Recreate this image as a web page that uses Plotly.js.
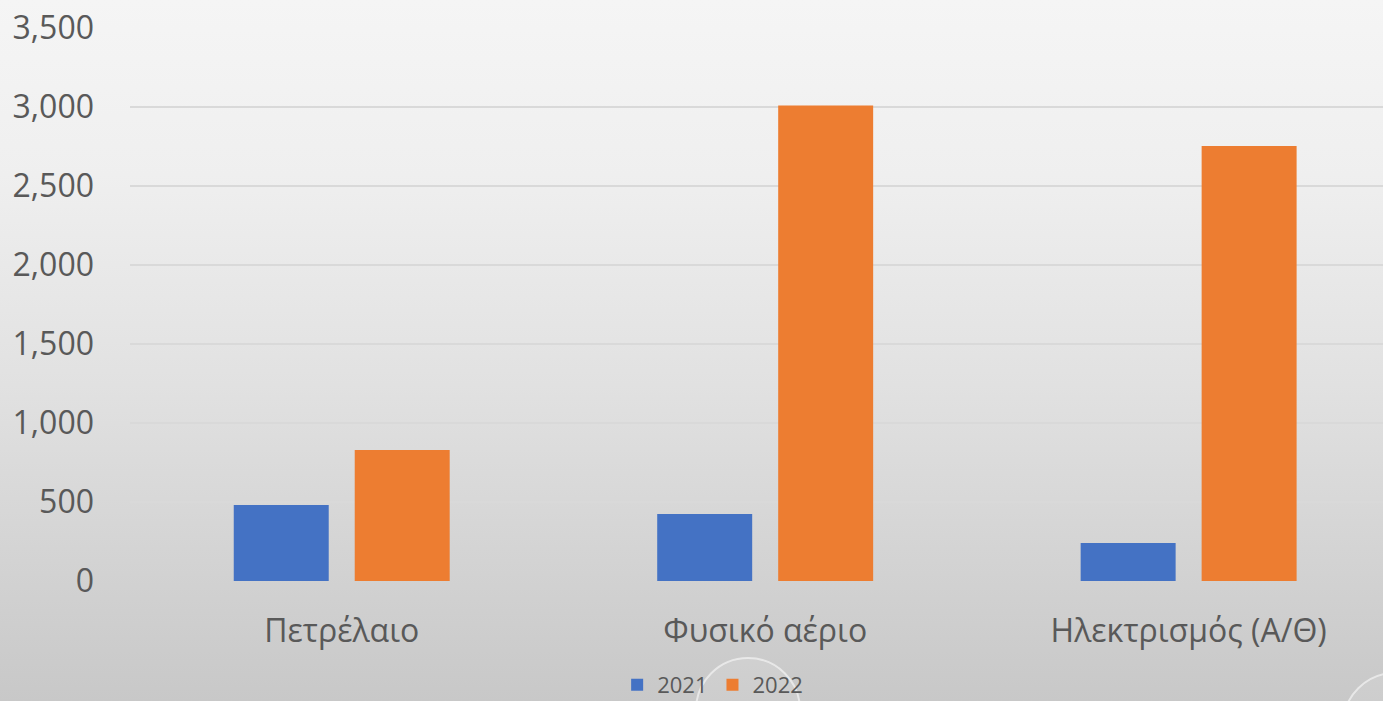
<!DOCTYPE html>
<html>
<head>
<meta charset="utf-8">
<script src="https://cdn.plot.ly/plotly-3.0.1.min.js"></script>
<style>
html,body{margin:0;padding:0;width:1383px;height:701px;overflow:hidden;}
#chart{width:1383px;height:701px;background:linear-gradient(to bottom,#f5f5f5 0%,#efefef 25%,#e1e1e1 55%,#d3d3d3 80%,#c8c8c8 100%);}
</style>
</head>
<body>
<div id="chart"></div>
<script>
const categories = ["Πετρέλαιο", "Φυσικό αέριο", "Ηλεκτρισμός (Α/Θ)"];
const seriesNames = ["2021", "2022"];
const values2021 = [481, 424, 240];
const values2022 = [829, 3010, 2753];
const yTickValues = [0, 500, 1000, 1500, 2000, 2500, 3000, 3500];

const colors = ["#4472C4", "#ED7D31"];
const font = "'Open Sans', 'Noto Sans', sans-serif";

const data = [
  {type: "bar", name: seriesNames[0], x: categories, y: values2021, marker: {color: colors[0]}, hoverinfo: "none"},
  {type: "bar", name: seriesNames[1], x: categories, y: values2022, marker: {color: colors[1]}, hoverinfo: "none"}
];

const bubble = (x0, x1, y0, y1) => ({
  type: "circle", xref: "paper", yref: "paper", x0: x0, x1: x1, y0: y0, y1: y1,
  layer: "below", line: {color: "rgba(255,255,255,0.55)", width: 2},
  fillcolor: "rgba(255,255,255,0.10)"
});

const layout = {
  width: 1383, height: 701,
  margin: {l: 130, r: 0, t: 28, b: 120, autoexpand: false},
  paper_bgcolor: "rgba(0,0,0,0)",
  plot_bgcolor: "rgba(0,0,0,0)",
  barmode: "group",
  bargap: 0.4286,
  bargroupgap: 0.215,
  showlegend: true,
  legend: {
    orientation: "h", x: 0.465, xanchor: "center", y: -0.188, yanchor: "middle",
    font: {family: font, size: 22, color: "#595959"},
    itemwidth: 30, tracegroupgap: 0
  },
  shapes: [
    bubble(0.4517, 0.5347, -0.1392, -0.3273),
    bubble(0.9681, 1.0511, -0.1664, -0.3544)
  ],
  xaxis: {
    range: [-0.5, 2.459],
    showgrid: false, zeroline: false, showline: false,
    tickfont: {family: font, size: 32, color: "#595959"},
    ticks: "", ticklabelstandoff: 28, fixedrange: true
  },
  yaxis: {
    range: [0, 3500],
    tickvals: yTickValues,
    tickformat: ",d",
    showgrid: true, gridcolor: "#d9d9d9", gridwidth: 2,
    zeroline: false, showline: false,
    tickfont: {family: font, size: 32, color: "#595959"},
    ticks: "", ticklabelstandoff: 35, fixedrange: true
  }
};

Plotly.newPlot("chart", data, layout, {displayModeBar: false, staticPlot: true});
</script>
</body>
</html>
